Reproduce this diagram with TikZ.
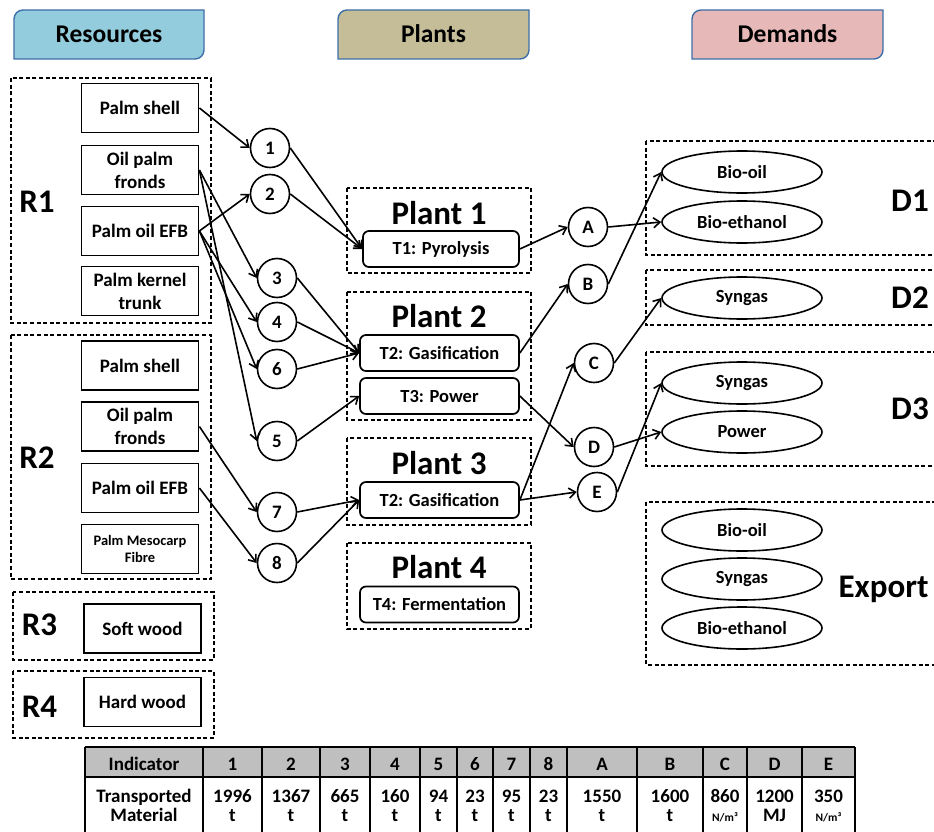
\documentclass[tikz,border=0pt]{standalone}
\usepackage{fontspec}
\setmainfont{Carlito}
\usetikzlibrary{arrows.meta,shapes.geometric}

\newcommand\setfs[2]{\fontsize{#1}{#2}\selectfont\bfseries}

\definecolor{resfill}{HTML}{93CDDD}
\definecolor{plantfill}{HTML}{C4BD97}
\definecolor{demfill}{HTML}{E6B9B8}
\definecolor{hdrline}{HTML}{3E6EA8}
\definecolor{tblgray}{HTML}{BFBFBF}

\begin{document}
\begin{tikzpicture}[x=1pt, y=-1pt,
  hdrshape/.style={draw=hdrline, line width=1.4pt},
  hdrtext/.style={font=\setfs{25.5}{30}, anchor=base, inner sep=0pt},
  grp/.style={draw, line width=1.4pt, dash pattern=on 4pt off 2.6pt},
  grplabel/.style={font=\setfs{33}{38}, anchor=base, inner sep=0pt},
  resbox/.style={draw, line width=1.8pt, minimum width=117pt, minimum height=49pt,
    inner sep=1pt, align=center, font=\setfs{19}{23}},
  hub/.style={circle, draw, line width=1.6pt, minimum size=39pt, inner sep=0pt,
    font=\setfs{19}{23}},
  tech/.style={draw, rounded corners=6pt, line width=1.7pt, minimum width=159pt,
    minimum height=36pt, inner sep=1pt, font=\setfs{18.5}{22}},
  prod/.style={ellipse, draw, line width=1.6pt, minimum width=160pt,
    minimum height=42pt, inner sep=0pt, font=\setfs{18.5}{22}},
  flow/.style={line width=1.6pt, -{Straight Barb[length=6.5pt,width=10pt]}},
  cell/.style={font=\setfs{19}{21}, anchor=base, inner sep=0pt},
  tline/.style={line width=1.3pt}]

\useasboundingbox (0,0) rectangle (934,832);
\fill[white] (0,0) rectangle (934,832);

% ---------- column headers ----------
\draw[hdrshape, fill=resfill] (14,59) -- (14,19) .. controls (14,14) and (18,10) .. (23,10)
  -- (204,10) -- (204,50) .. controls (204,55) and (200,59) .. (195,59) -- cycle;
\draw[hdrshape, fill=plantfill] (338,59) -- (338,19) .. controls (338,14) and (342,10) .. (347,10)
  -- (529,10) -- (529,50) .. controls (529,55) and (525,59) .. (520,59) -- cycle;
\draw[hdrshape, fill=demfill] (692,59) -- (692,19) .. controls (692,14) and (696,10) .. (701,10)
  -- (883,10) -- (883,50) .. controls (883,55) and (879,59) .. (874,59) -- cycle;
\node[hdrtext] (hres) at (109,43) {Resources};
\node[hdrtext] (hplt) at (433.5,43) {Plants};
\node[hdrtext] (hdem) at (787.5,43) {Demands};

% ---------- resource clusters ----------
\draw[grp] (11,78) rectangle (211,323);
\draw[grp] (11,335) rectangle (211,579);
\draw[grp] (13,592) rectangle (214,660);
\draw[grp] (13,671) rectangle (214,738);
\node[grplabel] (lr1) at (37,212) {R1};
\node[grplabel] (lr2) at (37,468) {R2};
\node[grplabel] (lr3) at (39.5,635) {R3};
\node[grplabel] (lr4) at (39.5,717) {R4};

\node[resbox] (r1ps)  at (140,108) {Palm shell};
\node[resbox] (r1of)  at (140,170) {Oil palm\\fronds};
\node[resbox] (r1efb) at (140,231) {Palm oil EFB};
\node[resbox] (r1pkt) at (140,291) {Palm kernel\\trunk};
\node[resbox] (r2ps)  at (140,365.5) {Palm shell};
\node[resbox] (r2of)  at (140,426.5) {Oil palm\\fronds};
\node[resbox] (r2efb) at (140,488) {Palm oil EFB};
\node[resbox, font=\setfs{14.5}{17.5}] (r2pmf) at (140,549) {Palm Mesocarp\\Fibre};
\node[resbox] (r3sw) at (142.5,628.5) {Soft wood};
\node[resbox] (r4hw) at (142.5,702) {Hard wood};

% ---------- transport hubs (resources side) ----------
\node[hub] (h1) at (270,148) {1};
\node[hub] (h2) at (270,194) {2};
\node[hub] (h3) at (277,278) {3};
\node[hub] (h4) at (277,322) {4};
\node[hub] (h6) at (277,369) {6};
\node[hub] (h5) at (277,441) {5};
\node[hub] (h7) at (277,512) {7};
\node[hub] (h8) at (277,563) {8};

% ---------- plants ----------
\draw[grp] (347,188) rectangle (531,273);
\draw[grp] (347,292) rectangle (531,420);
\draw[grp] (347,438) rectangle (531,525);
\draw[grp] (347,543) rectangle (531,629);
\node[grplabel] (p1) at (439,224) {Plant 1};
\node[grplabel] (p2) at (439,327) {Plant 2};
\node[grplabel] (p3) at (439,474) {Plant 3};
\node[grplabel] (p4) at (439,578) {Plant 4};
\node[tech, minimum width=156pt] (t1) at (441,249) {T1: Pyrolysis};
\node[tech] (t2a) at (439.5,353) {T2: Gasification};
\node[tech] (t3)  at (439.5,396) {T3: Power};
\node[tech] (t2b) at (439.5,500) {T2: Gasification};
\node[tech] (t4)  at (439.5,604.5) {T4: Fermentation};

% ---------- transport hubs (demand side) ----------
\node[hub] (hA) at (588,227) {A};
\node[hub] (hB) at (588,284) {B};
\node[hub] (hC) at (594,363) {C};
\node[hub] (hD) at (594,447) {D};
\node[hub] (hE) at (597,492) {E};

% ---------- demands ----------
\draw[grp] (646,141) rectangle (945,255);
\draw[grp] (646,270) rectangle (945,325);
\draw[grp] (646,352) rectangle (945,466);
\draw[grp] (646,502) rectangle (945,665);
\node[grplabel] (ld1) at (910,211) {D1};
\node[grplabel] (ld2) at (910,308) {D2};
\node[grplabel] (ld3) at (910,419) {D3};
\node[grplabel] (lex) at (883.5,597) {Export};

\node[prod] (d1oil) at (742,172) {Bio-oil};
\node[prod] (d1eth) at (742,222) {Bio-ethanol};
\node[prod] (d2syn) at (742,298) {Syngas};
\node[prod] (d3syn) at (742,383) {Syngas};
\node[prod] (d3pow) at (742,432) {Power};
\node[prod] (exoil) at (742,530) {Bio-oil};
\node[prod] (exsyn) at (742,579) {Syngas};
\node[prod] (exeth) at (742,628) {Bio-ethanol};

% ---------- material flows ----------
\draw[flow] (r1ps.east) -- (h1.west);
\draw[flow] (r1of.east) -- (h3.west);
\draw[flow] (r1of.east) -- (h5.west);
\draw[flow] (r1efb.east) -- (h2.west);
\draw[flow] (r1efb.east) -- (h4.west);
\draw[flow] (r1efb.east) -- (h6.west);
\draw[flow] (r2of.east) -- (h7.west);
\draw[flow] (r2efb.east) -- (h8.west);

\draw[flow] (h1.east) -- (t1.west);
\draw[flow] (h2.east) -- (t1.west);
\draw[flow] (h3.east) -- (t2a.west);
\draw[flow] (h4.east) -- (t2a.west);
\draw[flow] (h6.east) -- (t2a.west);
\draw[flow] (h5.east) -- (t3.west);
\draw[flow] (h7.east) -- (t2b.west);
\draw[flow] (h8.east) -- (t2b.west);

\draw[flow] (t1.east) -- (hA.west);
\draw[flow] (t2a.east) -- (hB.west);
\draw[flow] (t3.east) -- (hD.west);
\draw[flow] (t2b.east) -- (hC.west);
\draw[flow] (t2b.east) -- (hE.west);

\draw[flow] (hA.east) -- (d1eth.west);
\draw[flow] (hB.east) -- (d1oil.west);
\draw[flow] (hC.east) -- (d2syn.west);
\draw[flow] (hD.east) -- (d3pow.west);
\draw[flow] (hE.east) -- (d3syn.west);

% ---------- summary table ----------
\fill[tblgray] (85,747) rectangle (855,777);
\draw[tline] (85,747) -- (855,747);
\draw[tline] (85,777) -- (855,777);
\foreach \cx in {85,203,262,320,370,420,457,493,530,567,637,703,747,802,855}
  \draw[tline] (\cx,747) -- (\cx,840);

\foreach \cx/\lab [count=\i] in {144/Indicator, 232.5/1, 291/2, 345/3, 395/4,
    438.5/5, 475/6, 511.5/7, 548.5/8, 602/A, 670/B, 725/C, 774.5/D, 828.5/E}
  \node[cell] (th\i) at (\cx,770) {\lab};

\foreach \cx/\va/\vb [count=\i] in {144/Transported/Material, 232.5/1996/t, 291/1367/t,
    345/665/t, 395/160/t, 438.5/94/t, 475/23/t, 511.5/95/t, 548.5/23/t, 602/1550/t,
    670/1600/t, 725/860/{\setfs{11.5}{13}N/m³}, 774.5/1200/MJ, 828.5/350/{\setfs{11.5}{13}N/m³}}
  {
    \node[cell] (tv\i) at (\cx,802) {\va};
    \node[cell] (tu\i) at (\cx,821) {\vb};
  }

\end{tikzpicture}
\end{document}
